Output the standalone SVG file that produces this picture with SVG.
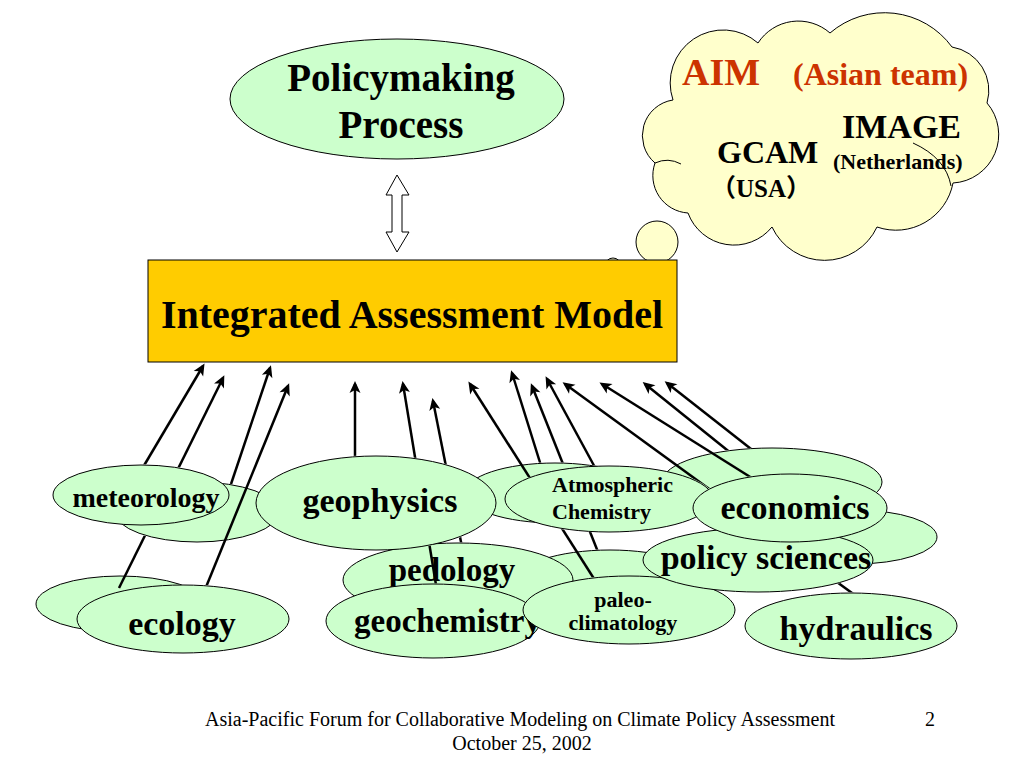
<svg xmlns="http://www.w3.org/2000/svg" xmlns:xlink="http://www.w3.org/1999/xlink" width="1024" height="768" viewBox="0 0 1024 768">
<style>
.bub{fill:#CCFFCC;stroke:#000;stroke-width:1}
.t{font-family:"Liberation Serif","Times New Roman",serif;font-weight:bold;fill:#000}
.c{text-anchor:middle}
.con line{stroke:#000;stroke-width:2.5;marker-end:url(#ah)}
.occ{fill:#000;stroke:#000;stroke-width:1.5}
.foot{font-family:"Liberation Serif","Times New Roman",serif;font-size:20px;fill:#000}
</style>
<defs>
<marker id="ah" markerUnits="userSpaceOnUse" markerWidth="16" markerHeight="14" viewBox="-12 -7 16 14" refX="0" refY="0" orient="auto">
<path d="M3,0 L-9,-5.5 L-6,0 L-9,5.5 Z" fill="#000"/>
</marker>
<ellipse id="e-ecoblank" cx="120" cy="604" rx="84" ry="28"/>
<ellipse id="e-metblank" cx="197" cy="512" rx="82" ry="30"/>
<ellipse id="e-met" cx="141" cy="495" rx="88" ry="30"/>
<ellipse id="e-eco" cx="183" cy="619" rx="106" ry="34"/>
<ellipse id="e-paleoblank" cx="610" cy="582" rx="95" ry="32"/>
<ellipse id="e-ped" cx="458" cy="580" rx="115" ry="37"/>
<ellipse id="e-geochem" cx="433" cy="621" rx="107" ry="37"/>
<ellipse id="e-atmblank" cx="555" cy="493" rx="90" ry="30"/>
<ellipse id="e-geo" cx="376" cy="503" rx="120" ry="47"/>
<ellipse id="e-paleo" cx="629" cy="610" rx="106" ry="34"/>
<ellipse id="e-econblank" cx="772" cy="482" rx="110" ry="34"/>
<ellipse id="e-atm" cx="609" cy="499" rx="104" ry="33"/>
<ellipse id="e-polblank" cx="855" cy="537" rx="82" ry="27"/>
<ellipse id="e-hyd" cx="851" cy="626" rx="106" ry="33"/>
<ellipse id="e-pol" cx="758" cy="560" rx="115" ry="32"/>
<ellipse id="e-econ" cx="790" cy="508" rx="97" ry="34"/>
<mask id="m1" maskUnits="userSpaceOnUse" x="0" y="0" width="1024" height="768"><rect width="1024" height="768" fill="#fff"/><use xlink:href="#e-met" class="occ"/></mask>
<mask id="m2" maskUnits="userSpaceOnUse" x="0" y="0" width="1024" height="768"><rect width="1024" height="768" fill="#fff"/><use xlink:href="#e-metblank" class="occ"/><use xlink:href="#e-met" class="occ"/><use xlink:href="#e-eco" class="occ"/></mask>
<mask id="m3" maskUnits="userSpaceOnUse" x="0" y="0" width="1024" height="768"><rect width="1024" height="768" fill="#fff"/><use xlink:href="#e-metblank" class="occ"/></mask>
<mask id="m4" maskUnits="userSpaceOnUse" x="0" y="0" width="1024" height="768"><rect width="1024" height="768" fill="#fff"/><use xlink:href="#e-eco" class="occ"/></mask>
<mask id="m5" maskUnits="userSpaceOnUse" x="0" y="0" width="1024" height="768"><rect width="1024" height="768" fill="#fff"/><use xlink:href="#e-geo" class="occ"/></mask>
<mask id="m6" maskUnits="userSpaceOnUse" x="0" y="0" width="1024" height="768"><rect width="1024" height="768" fill="#fff"/><use xlink:href="#e-geo" class="occ"/><use xlink:href="#e-geochem" class="occ"/></mask>
<mask id="m7" maskUnits="userSpaceOnUse" x="0" y="0" width="1024" height="768"><rect width="1024" height="768" fill="#fff"/><use xlink:href="#e-ped" class="occ"/><use xlink:href="#e-geo" class="occ"/></mask>
<mask id="m8" maskUnits="userSpaceOnUse" x="0" y="0" width="1024" height="768"><rect width="1024" height="768" fill="#fff"/><use xlink:href="#e-atm" class="occ"/><use xlink:href="#e-paleo" class="occ"/></mask>
<mask id="m9" maskUnits="userSpaceOnUse" x="0" y="0" width="1024" height="768"><rect width="1024" height="768" fill="#fff"/><use xlink:href="#e-atmblank" class="occ"/><use xlink:href="#e-atm" class="occ"/></mask>
<mask id="m10" maskUnits="userSpaceOnUse" x="0" y="0" width="1024" height="768"><rect width="1024" height="768" fill="#fff"/><use xlink:href="#e-atmblank" class="occ"/><use xlink:href="#e-atm" class="occ"/><use xlink:href="#e-paleoblank" class="occ"/></mask>
<mask id="m12" maskUnits="userSpaceOnUse" x="0" y="0" width="1024" height="768"><rect width="1024" height="768" fill="#fff"/><use xlink:href="#e-atm" class="occ"/><use xlink:href="#e-econ" class="occ"/><use xlink:href="#e-pol" class="occ"/><use xlink:href="#e-polblank" class="occ"/><use xlink:href="#e-hyd" class="occ"/></mask>
<mask id="m13" maskUnits="userSpaceOnUse" x="0" y="0" width="1024" height="768"><rect width="1024" height="768" fill="#fff"/><use xlink:href="#e-econ" class="occ"/></mask>
<mask id="m14" maskUnits="userSpaceOnUse" x="0" y="0" width="1024" height="768"><rect width="1024" height="768" fill="#fff"/><use xlink:href="#e-econblank" class="occ"/><use xlink:href="#e-econ" class="occ"/></mask>
</defs>
<rect width="1024" height="768" fill="#fff"/>

<g id="thought-bubbles">
<circle cx="613" cy="266" r="8" fill="#FFFFCC" stroke="#000" stroke-width="1"/>
<circle cx="657" cy="242" r="21" fill="#FFFFCC" stroke="#000" stroke-width="1"/>
</g>

<g id="cloud">
<path d="M673,100 A53,53 0 0 1 758,43 A48,48 0 0 1 830,33 A83.5,83.5 0 0 1 952,47 A44,44 0 0 1 987,103 A48.5,48.5 0 0 1 953,183 A58,58 0 0 1 877,227 A58,58 0 0 1 772,227 A49,49 0 0 1 688,213 A37.5,37.5 0 0 1 655,163 A36,36 0 0 1 673,100 Z" fill="#FFFFCC" stroke="#000" stroke-width="1"/>
<text class="t" x="682" y="85" font-size="38" fill="#CC3300" style="fill:#CC3300">AIM</text>
<text class="t" x="793" y="85" font-size="32" style="fill:#CC3300">(Asian team)</text>
<text class="t" x="842" y="138" font-size="34">IMAGE</text>
<text class="t" x="717" y="163" font-size="32">GCAM</text>
<text class="t" x="833" y="169" font-size="22">(Netherlands)</text>
<text class="t c" x="761" y="197" font-size="25" style="font-family:'Liberation Serif','Noto Sans CJK JP',serif">（USA）</text>
<path d="M913,143 Q946,158 951,186" fill="none" stroke="#000" stroke-width="1"/>
<path d="M655,163 Q668,157 681,164" fill="none" stroke="#000" stroke-width="1"/>
</g>

<g id="policymaking">
<ellipse class="bub" cx="397" cy="99" rx="167" ry="60"/>
<text class="t c" x="401" y="91" font-size="39">Policymaking</text>
<text class="t c" x="401" y="138" font-size="39">Process</text>
</g>

<g id="double-arrow">
<polygon points="397,175 409,195 402,195 402,232 409,232 397,252 386,232 392,232 392,195 386,195" fill="#fff" stroke="#000" stroke-width="1"/>
</g>

<g id="iam">
<rect x="148" y="260" width="529" height="102" fill="#FFCC00" stroke="#000" stroke-width="1"/>
<text class="t c" x="412" y="328" font-size="40">Integrated Assessment Model</text>
</g>

<g id="blank-1"><use xlink:href="#e-ecoblank" class="bub"/></g>
<g id="blank-2"><use xlink:href="#e-metblank" class="bub"/></g>
<g id="meteorology"><use xlink:href="#e-met" class="bub"/><text class="t c" x="146" y="507" font-size="28">meteorology</text></g>
<g id="ecology"><use xlink:href="#e-eco" class="bub"/><text class="t c" x="182" y="635" font-size="34">ecology</text></g>
<g id="blank-3"><use xlink:href="#e-paleoblank" class="bub"/></g>
<g id="pedology"><use xlink:href="#e-ped" class="bub"/><text class="t c" x="452" y="581" font-size="33">pedology</text></g>
<g id="geochemistry"><use xlink:href="#e-geochem" class="bub"/><text class="t" x="354" y="632" font-size="33">geochemistry</text></g>
<g id="blank-4"><use xlink:href="#e-atmblank" class="bub"/></g>
<g id="geophysics"><use xlink:href="#e-geo" class="bub"/><text class="t c" x="380" y="512" font-size="34">geophysics</text></g>
<g id="paleoclimatology"><use xlink:href="#e-paleo" class="bub"/><text class="t c" x="623" y="607" font-size="22">paleo-</text><text class="t c" x="623" y="630" font-size="22">climatology</text></g>
<g id="blank-5"><use xlink:href="#e-econblank" class="bub"/></g>
<g id="atmospheric-chemistry"><use xlink:href="#e-atm" class="bub"/><text class="t" x="552" y="492" font-size="22">Atmospheric</text><text class="t" x="552" y="519" font-size="22">Chemistry</text></g>
<g id="blank-6"><use xlink:href="#e-polblank" class="bub"/></g>
<g id="hydraulics"><use xlink:href="#e-hyd" class="bub"/><text class="t c" x="856" y="640" font-size="34">hydraulics</text></g>
<g id="policy-sciences"><use xlink:href="#e-pol" class="bub"/><text class="t c" x="766" y="569" font-size="34">policy sciences</text></g>
<g id="economics"><use xlink:href="#e-econ" class="bub"/><text class="t c" x="795" y="519" font-size="34">economics</text></g>

<g id="connectors" class="con">
<line x1="139" y1="474" x2="203" y2="366" mask="url(#m1)"/>
<line x1="119" y1="588" x2="223" y2="378" mask="url(#m2)"/>
<line x1="228" y1="493" x2="270" y2="368" mask="url(#m3)"/>
<line x1="204" y1="592" x2="288" y2="386" mask="url(#m4)"/>
<line x1="355" y1="470" x2="355" y2="384" mask="url(#m5)"/>
<line x1="438" y1="597" x2="403" y2="384" mask="url(#m6)"/>
<line x1="464" y1="557" x2="433" y2="401" mask="url(#m7)"/>
<line x1="598" y1="585" x2="470" y2="384" mask="url(#m8)"/>
<line x1="543" y1="472" x2="512" y2="373" mask="url(#m9)"/>
<line x1="602" y1="562" x2="532" y2="386" mask="url(#m10)"/>
<line x1="598" y1="473" x2="547" y2="379" mask="url(#m9)"/>
<line x1="863" y1="601" x2="565" y2="384" mask="url(#m12)"/>
<line x1="763" y1="485" x2="602" y2="384" mask="url(#m13)"/>
<line x1="737" y1="458" x2="645" y2="384" mask="url(#m14)"/>
<line x1="760" y1="456" x2="667" y2="383" mask="url(#m14)"/>
</g>

<g id="footer">
<text class="foot" x="520" y="726" text-anchor="middle">Asia-Pacific Forum for Collaborative Modeling on Climate Policy Assessment</text>
<text class="foot" x="522" y="750" text-anchor="middle">October 25, 2002</text>
<text class="foot" x="930" y="726" text-anchor="middle">2</text>
</g>
</svg>
